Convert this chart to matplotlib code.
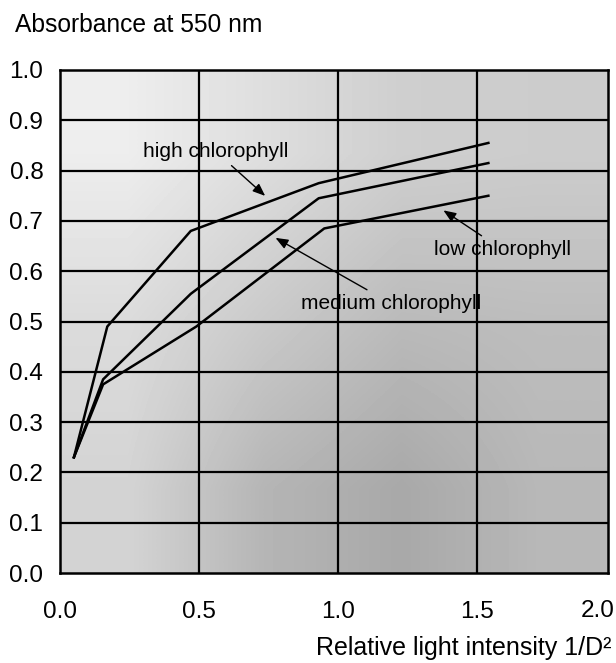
import matplotlib
matplotlib.use("Agg")
import matplotlib.pyplot as plt

plt.rcParams["font.family"] = ["Liberation Sans", "DejaVu Sans"]

# ---- data ----
high_x = [0.05, 0.17, 0.47, 0.93, 1.54]
high_y = [0.23, 0.49, 0.68, 0.775, 0.855]
medium_x = [0.05, 0.155, 0.47, 0.93, 1.54]
medium_y = [0.23, 0.385, 0.555, 0.745, 0.815]
low_x = [0.05, 0.155, 0.49, 0.95, 1.54]
low_y = [0.23, 0.375, 0.49, 0.685, 0.75]

x_ticks = [0.0, 0.5, 1.0, 1.5]
x_tick_labels = ["0.0", "0.5", "1.0", "1.5"]
y_ticks = [0.0, 0.1, 0.2, 0.3, 0.4, 0.5, 0.6, 0.7, 0.8, 0.9, 1.0]
y_tick_labels = [f"{v:.1f}" for v in y_ticks]

# coarse grey levels of the stippled background (rows top->bottom)
shade = [
    [0.93, 0.87, 0.81, 0.80],
    [0.86, 0.79, 0.73, 0.74],
    [0.83, 0.71, 0.66, 0.72],
]

W, H, DPI = 616, 663, 100
fig = plt.figure(figsize=(W / DPI, H / DPI), dpi=DPI)
fig.patch.set_facecolor("white")
ax = fig.add_axes([60 / W, (H - 573) / H, 548 / W, 503 / H])

ax.set_xlim(0, 1.97)
ax.set_ylim(0, 1.0)

ax.imshow(shade, cmap="gray", vmin=0, vmax=1, extent=[0, 1.97, 0, 1.0],
          aspect="auto", interpolation="bilinear", zorder=0)

# grid
for v in x_ticks[1:]:
    ax.axvline(v, color="black", lw=1.6, zorder=1)
for v in y_ticks[1:-1]:
    ax.axhline(v, color="black", lw=1.6, zorder=1)

for s in ax.spines.values():
    s.set_linewidth(1.8)
    s.set_color("black")

ax.plot(high_x, high_y, color="black", lw=1.8, zorder=3)
ax.plot(medium_x, medium_y, color="black", lw=1.8, zorder=3)
ax.plot(low_x, low_y, color="black", lw=1.8, zorder=3)

ax.set_xticks(x_ticks)
ax.set_xticklabels(x_tick_labels)
ax.set_yticks(y_ticks)
ax.set_yticklabels(y_tick_labels)
ax.tick_params(length=0, labelsize=17.5)
ax.tick_params(axis="y", pad=12)
ax.tick_params(axis="x", pad=20)
# the 2.0 label sits past the right frame, squeezed against the edge
ax.text(615 / W, 1 - 611 / H, "2.0", transform=fig.transFigure,
        ha="right", va="center", fontsize=17.5)

arrow = dict(arrowstyle="-|>,head_length=0.5,head_width=0.2", color="black", lw=1.0)
ax.annotate("high chlorophyll", xy=(0.745, 0.746), xytext=(0.56, 0.838),
            ha="center", va="center", fontsize=15, arrowprops=arrow, zorder=4)
ax.annotate("medium chlorophyll", xy=(0.766, 0.669), xytext=(1.19, 0.536),
            ha="center", va="center", fontsize=15, arrowprops=arrow, zorder=4)
ax.annotate("low chlorophyll", xy=(1.37, 0.724), xytext=(1.59, 0.643),
            ha="center", va="center", fontsize=15, arrowprops=arrow, zorder=4)

fig.text(15 / W, 1 - 25 / H, "Absorbance at 550 nm", fontsize=17.7,
         ha="left", va="center")
fig.text(612 / W, 1 - 648 / H, "Relative light intensity 1/D\u00b2", fontsize=18,
         ha="right", va="center")

fig.savefig("out.png", dpi=DPI)
